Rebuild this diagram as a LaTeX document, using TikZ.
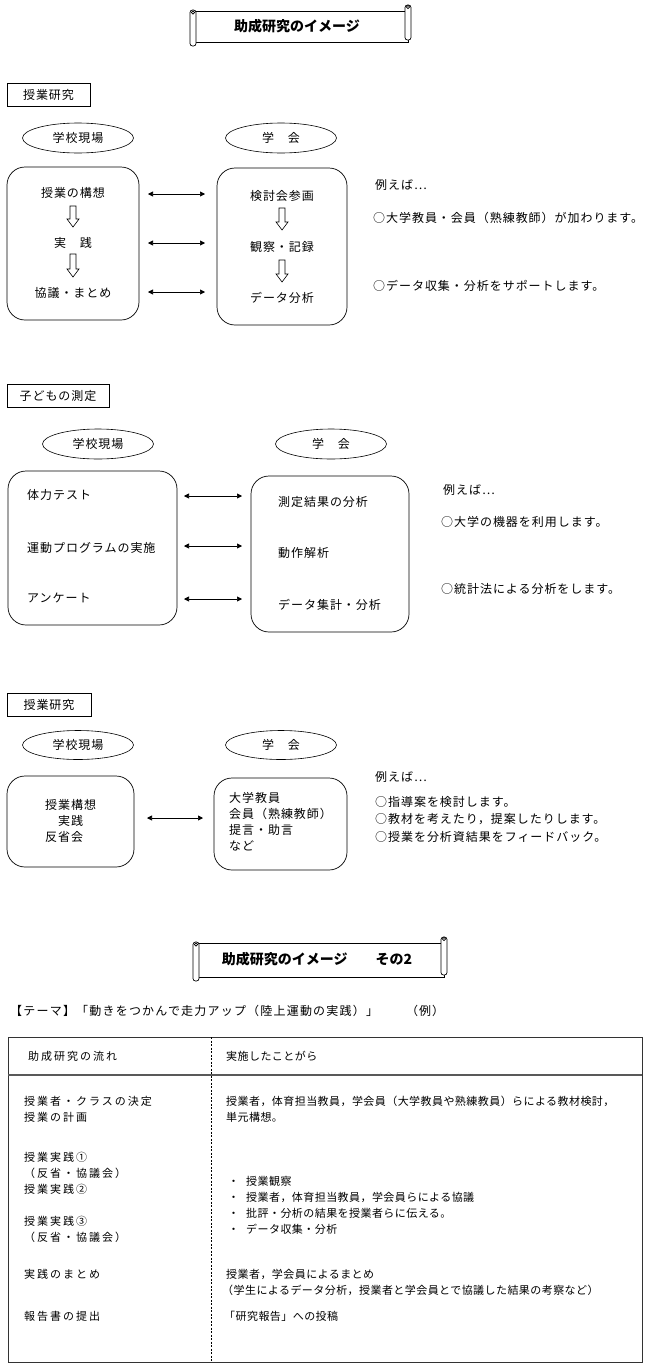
\documentclass[tikz,border=0pt]{standalone}
\usepackage{fontspec}
\setmainfont{Noto Sans CJK JP}
\newfontfamily\jp[LetterSpace=8]{Noto Sans CJK JP}
\newfontfamily\jpth[LetterSpace=10]{Noto Sans CJK JP}
\newfontfamily\jptl[LetterSpace=18]{Noto Sans CJK JP}
\newfontfamily\jptr[LetterSpace=4]{Noto Sans CJK JP}
\usetikzlibrary{shapes.geometric,arrows.meta}
\newcommand\scrollban[4]{%
  \draw[banner] (#1+3,#2+1) rectangle (#3-3,#4);
  \draw[banner,rounded corners=2.5pt] (#1,#2) rectangle (#1+6,#4+4);
  \draw[line width=0.6pt] (#1+3,#2+2.5) circle (1.6pt);
  \draw[banner,rounded corners=2.5pt] (#3-6,#2-5) rectangle (#3,#4-2);
  \draw[line width=0.6pt] (#3-3,#2-3) circle (1.6pt);
}
\newcommand\blockarr[3]{%
  \draw[blockarrow] (#1-3,#2) -- (#1+3,#2) -- (#1+3,#3-8) -- (#1+6,#3-8) -- (#1,#3) -- (#1-6,#3-8) -- (#1-3,#3-8) -- cycle;
}
\begin{document}
\begin{tikzpicture}[x=1pt,y=-1pt,
  every node/.style={font=\jp\fontsize{12}{14}\selectfont, inner sep=0pt},
  hdrbox/.style={draw, line width=0.6pt, minimum height=23pt},
  oval/.style={ellipse, draw, line width=0.6pt, minimum width=111pt, minimum height=30pt},
  rbox/.style={draw, rounded corners=18pt, line width=0.7pt},
  dbl/.style={{Triangle[length=5pt,width=5pt]}-{Triangle[length=5pt,width=5pt]}, line width=0.6pt},
  blockarrow/.style={draw, line width=0.6pt, fill=white},
  banner/.style={draw, line width=0.7pt, fill=white},
  lt/.style={anchor=west},
  tl/.style={font=\jptl\fontsize{11}{13}\selectfont, anchor=west},
  tr/.style={font=\jptr\fontsize{11}{13}\selectfont, anchor=west},
  ttl/.style={font=\bfseries\fontsize{14}{16}\selectfont}
]
\useasboundingbox (0,0) rectangle (650,1365);

% ---------- banner 1
\scrollban{190}{10}{411}{42}
\node[ttl] (ban1) at (297,26) {助成研究のイメージ};

% ---------- section 1
\node[hdrbox, minimum width=83pt] (s1) at (48.5,94.5) {授業研究};
\node[oval] (e1a) at (78,138) {学校現場};
\node[oval] (e1b) at (281,138) {学　会};
\node[rbox, minimum width=132pt, minimum height=153pt] (b1a) at (73,243.5) {};
\node[rbox, minimum width=130pt, minimum height=157pt] (b1b) at (282,246.5) {};
\node (t1a1) at (73,193) {授業の構想};
\node (t1a2) at (73,243) {実　践};
\node (t1a3) at (73,293) {協議・まとめ};
\node (t1b1) at (282,196) {検討会参画};
\node (t1b2) at (282,247) {観察・記録};
\node (t1b3) at (282,298) {データ分析};
\blockarr{73}{206}{227}
\blockarr{73}{254}{277}
\blockarr{282}{208}{230}
\blockarr{282}{260}{282}
\coordinate (a11l) at (148,194); \coordinate (a11r) at (205,194);
\coordinate (a12l) at (148,243); \coordinate (a12r) at (205,243);
\coordinate (a13l) at (148,292); \coordinate (a13r) at (205,292);
\draw[dbl] (a11l) -- (a11r);
\draw[dbl] (a12l) -- (a12r);
\draw[dbl] (a13l) -- (a13r);
\node[lt] (n1a) at (375,185) {例えば…};
\node[lt] (n1b) at (373,218) {○大学教員・会員（熟練教師）が加わります。};
\node[lt] (n1c) at (373,286) {○データ収集・分析をサポートします。};

% ---------- section 2
\node[hdrbox, minimum width=102pt] (s2) at (58,395.5) {子どもの測定};
\node[oval] (e2a) at (98,444) {学校現場};
\node[oval] (e2b) at (331,444) {学　会};
\node[rbox, minimum width=169pt, minimum height=154pt] (b2a) at (92.5,548) {};
\node[rbox, minimum width=158pt, minimum height=156pt] (b2b) at (330,554) {};
\node[lt] (t2a1) at (27,495) {体力テスト};
\node[lt] (t2a2) at (27,548) {運動プログラムの実施};
\node[lt] (t2a3) at (27,598) {アンケート};
\node[lt] (t2b1) at (278,502) {測定結果の分析};
\node[lt] (t2b2) at (278,553) {動作解析};
\node[lt] (t2b3) at (278,605) {データ集計・分析};
\coordinate (a21l) at (184,496); \coordinate (a21r) at (242,496);
\coordinate (a22l) at (184,546); \coordinate (a22r) at (242,546);
\coordinate (a23l) at (184,599); \coordinate (a23r) at (242,599);
\draw[dbl] (a21l) -- (a21r);
\draw[dbl] (a22l) -- (a22r);
\draw[dbl] (a23l) -- (a23r);
\node[lt] (n2a) at (443,490) {例えば…};
\node[lt] (n2b) at (441,522) {○大学の機器を利用します。};
\node[lt] (n2c) at (441,589) {○統計法による分析をします。};

% ---------- section 3
\node[hdrbox, minimum width=84pt] (s3) at (49,704.5) {授業研究};
\node[oval, minimum height=29pt] (e3a) at (78,745) {学校現場};
\node[oval, minimum height=29pt] (e3b) at (281,745) {学　会};
\node[rbox, minimum width=127pt, minimum height=91pt] (b3a) at (70.5,821.5) {};
\node[rbox, minimum width=133pt, minimum height=92pt] (b3b) at (280.5,824) {};
\node[lt] (t3a1) at (45,805) {授業構想};
\node[lt] (t3a2) at (58,821) {実践};
\node[lt] (t3a3) at (45,837) {反省会};
\node[lt] (t3b1) at (229,798) {大学教員};
\node[lt] (t3b2) at (229,814) {会員（熟練教師）};
\node[lt] (t3b3) at (229,830) {提言・助言};
\node[lt] (t3b4) at (229,846) {など};
\coordinate (a31l) at (147,818); \coordinate (a31r) at (203,818);
\draw[dbl] (a31l) -- (a31r);
\node[lt] (n3a) at (375,777) {例えば…};
\node[lt] (n3b) at (375,802) {○指導案を検討します。};
\node[lt] (n3c) at (375,819) {○教材を考えたり，提案したりします。};
\node[lt] (n3d) at (375,837) {○授業を分析資結果をフィードバック。};

% ---------- banner 2
\scrollban{193}{942}{447}{977}
\node[ttl] (ban2) at (317,959) {助成研究のイメージ　　その2};

% ---------- theme
\node[lt, font=\jpth\fontsize{12}{14}\selectfont] (theme) at (10,1011) {【テーマ】「動きをつかんで走力アップ（陸上運動の実践）」};
\node[lt] (rei) at (406,1011) {（例）};

% ---------- table
\draw[line width=0.8pt, black!80] (8,1037) rectangle (642,1362);
\draw[line width=1.3pt, black!65] (8,1075) -- (642,1075);
\draw[dash pattern=on 2pt off 1.5pt, line width=0.5pt] (211,1037) -- (211,1362);
\node[tl] (h1) at (28,1056) {助成研究の流れ};
\node[tr] (h2) at (226,1056) {実施したことがら};
\node[tl] (l1) at (24,1101) {授業者・クラスの決定};
\node[tl] (l2) at (24,1117) {授業の計画};
\node[tl] (l3) at (24,1157) {授業実践①};
\node[tl] (l4) at (24,1173) {（反省・協議会）};
\node[tl] (l5) at (24,1189) {授業実践②};
\node[tl] (l6) at (24,1221) {授業実践③};
\node[tl] (l7) at (24,1237) {（反省・協議会）};
\node[tl] (l8) at (24,1274) {実践のまとめ};
\node[tl] (l9) at (24,1316) {報告書の提出};
\node[tr] (r1) at (226,1101) {授業者，体育担当教員，学会員（大学教員や熟練教員）らによる教材検討，};
\node[tr] (r2) at (226,1117) {単元構想。};
\node[tr] (r3) at (228,1181) {・\hspace{7pt}授業観察};
\node[tr] (r4) at (228,1197) {・\hspace{7pt}授業者，体育担当教員，学会員らによる協議};
\node[tr] (r5) at (228,1213) {・\hspace{7pt}批評・分析の結果を授業者らに伝える。};
\node[tr] (r6) at (228,1229) {・\hspace{7pt}データ収集・分析};
\node[tr] (r7) at (226,1274) {授業者，学会員によるまとめ};
\node[tr] (r8) at (222,1290) {（学生によるデータ分析，授業者と学会員とで協議した結果の考察など）};
\node[tr] (r9) at (224,1316) {「研究報告」への投稿};
\end{tikzpicture}
\end{document}
